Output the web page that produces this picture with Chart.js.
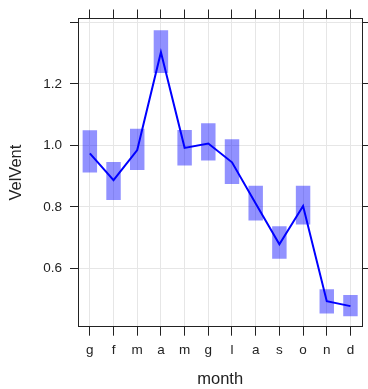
<!DOCTYPE html>
<html>
<head>
<meta charset="utf-8">
<script src="https://cdn.jsdelivr.net/npm/chart.js@4/dist/chart.umd.min.js"></script>
<style>
  html, body { margin: 0; padding: 0; background: #fff; }
  #wrap { width: 368px; height: 389px; position: relative; }
</style>
</head>
<body>
<div id="wrap"><canvas id="chart"></canvas></div>
<script>
const months = ['g', 'f', 'm', 'a', 'm', 'g', 'l', 'a', 's', 'o', 'n', 'd']
const meanValues = [0.974, 0.887, 0.985, 1.303, 0.992, 1.006, 0.945, 0.811, 0.678, 0.803, 0.493, 0.477]
const lowValues = [0.912, 0.822, 0.920, 1.236, 0.935, 0.951, 0.874, 0.756, 0.631, 0.743, 0.453, 0.444]
const highValues = [1.049, 0.946, 1.054, 1.375, 1.050, 1.072, 1.020, 0.869, 0.737, 0.869, 0.532, 0.513]
const yTicks = [0.6, 0.8, 1.0, 1.2, 1.4]
const yLabelled = [0.6, 0.8, 1.0, 1.2]

const fontFamily = '"Liberation Sans", Arial, Helvetica, sans-serif'
const tickFont = { family: fontFamily, size: 13.5 }
const titleFont = { family: fontFamily, size: 16.5 }
const dark = '#222'
const gridColor = '#e6e6e6'

const setTicks = (scale) => {
  scale.ticks = yTicks.map((v) => ({ value: v }))
}

const yRange = { min: 0.41, max: 1.413 }

new Chart(document.getElementById('chart'), {
  data: {
    labels: months,
    datasets: [
      {
        type: 'line',
        data: meanValues,
        borderColor: '#0000ff',
        borderWidth: 2,
        pointRadius: 0,
        tension: 0,
        fill: false,
        order: 0
      },
      {
        type: 'bar',
        data: months.map((m, i) => [lowValues[i], highValues[i]]),
        backgroundColor: 'rgba(0, 0, 255, 0.43)',
        borderWidth: 0,
        barPercentage: 0.61,
        categoryPercentage: 1,
        order: 1
      }
    ]
  },
  options: {
    responsive: true,
    maintainAspectRatio: false,
    animation: false,
    layout: { padding: 0 },
    plugins: { legend: { display: false }, tooltip: { enabled: false } },
    scales: {
      x: {
        type: 'category',
        position: 'bottom',
        offset: true,
        grid: { offset: false, color: gridColor, tickColor: dark, tickLength: 9, lineWidth: 1 },
        border: { display: true, color: dark, width: 1 },
        ticks: { color: dark, font: tickFont, padding: 6, maxRotation: 0, autoSkip: false },
        title: { display: true, text: 'month', color: dark, font: titleFont, padding: { top: 0, bottom: 0 } },
        afterFit: (s) => { s.height = 62.3 }
      },
      x2: {
        type: 'category',
        position: 'top',
        offset: true,
        grid: { offset: false, drawOnChartArea: false, tickColor: dark, tickLength: 9 },
        border: { display: true, color: dark, width: 1 },
        ticks: { display: false, autoSkip: false },
        afterFit: (s) => { s.height = 18.5 }
      },
      y: {
        type: 'linear',
        position: 'left',
        ...yRange,
        afterBuildTicks: setTicks,
        grid: { color: gridColor, tickColor: dark, tickLength: 8, lineWidth: 1 },
        border: { display: true, color: dark, width: 1 },
        ticks: {
          color: dark,
          font: tickFont,
          padding: 8,
          callback: (v) => (yLabelled.includes(Math.round(v * 10) / 10) ? v.toFixed(1) : '')
        },
        title: { display: true, text: 'VelVent', color: dark, font: titleFont, padding: { top: 7, bottom: 0 } },
        afterFit: (s) => { s.width = 78 }
      },
      y2: {
        type: 'linear',
        position: 'right',
        ...yRange,
        afterBuildTicks: setTicks,
        grid: { drawOnChartArea: false, tickColor: dark, tickLength: 6 },
        border: { display: true, color: dark, width: 1 },
        ticks: { display: false },
        afterFit: (s) => { s.width = 5.7 }
      }
    }
  }
})
</script>
</body>
</html>
